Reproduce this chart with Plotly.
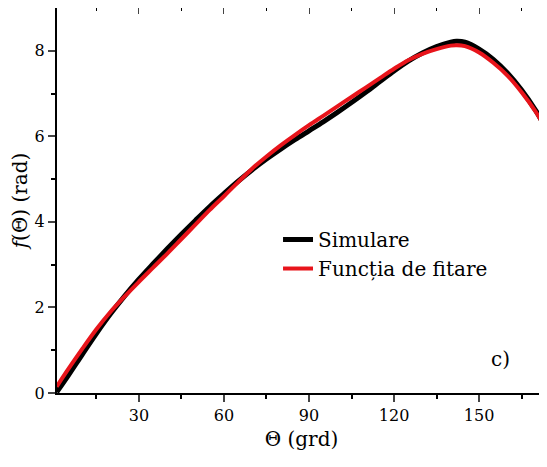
import plotly.graph_objects as go

theta = [1, 5, 10, 15, 20, 25, 30, 35, 40, 45, 50, 55, 60, 65, 70, 75, 80, 85, 90, 95,
         100, 105, 110, 115, 120, 125, 130, 135, 140, 142, 145, 150, 155, 160, 165, 170, 173.5]
simulare = [0.02, 0.40, 0.90, 1.39, 1.85, 2.27, 2.66, 3.02, 3.37, 3.71, 4.04, 4.36, 4.66, 4.95,
            5.22, 5.47, 5.70, 5.92, 6.13, 6.34, 6.56, 6.79, 7.03, 7.28, 7.53, 7.76, 7.95, 8.10,
            8.20, 8.22, 8.20, 8.04, 7.80, 7.48, 7.08, 6.60, 6.20]
fitare = [0.15, 0.55, 1.03, 1.49, 1.90, 2.26, 2.60, 2.93, 3.26, 3.60, 3.94, 4.28, 4.60, 4.93,
          5.25, 5.53, 5.79, 6.03, 6.26, 6.48, 6.70, 6.92, 7.14, 7.36, 7.58, 7.78, 7.93, 8.04,
          8.12, 8.13, 8.11, 7.96, 7.72, 7.42, 7.03, 6.57, 6.18]

x_ticks = [30, 60, 90, 120, 150]
y_ticks = [0, 2, 4, 6, 8]
x_minor = [15, 45, 75, 105, 135, 165]
y_minor = [1, 3, 5, 7]
x_range = [1.1, 173.6]
y_range = [0, 9]

FONT = "DejaVu Serif"

fig = go.Figure()
fig.add_trace(go.Scatter(x=theta, y=simulare, mode="lines", name="Simulare",
                         line=dict(color="black", width=5, shape="spline", smoothing=1.0)))
fig.add_trace(go.Scatter(x=theta, y=fitare, mode="lines", name="Funcția de fitare",
                         line=dict(color="#e8141b", width=4, shape="spline", smoothing=1.0)))

fig.add_trace(go.Scatter(x=[None], y=[None], xaxis="x2", yaxis="y2", showlegend=False,
                         hoverinfo="skip"))

# page body has an 8px margin: figure is sized/offset to compensate
fig.update_layout(
    width=539, height=443,
    margin=dict(l=49, r=1, t=0, b=58, autoexpand=False),
    paper_bgcolor="white", plot_bgcolor="white",
    font=dict(family=FONT, color="black", size=16),
    showlegend=True,
    legend=dict(x=0.452, y=0.361, xanchor="left", yanchor="middle",
                font=dict(family=FONT, size=20, color="black"),
                bgcolor="rgba(0,0,0,0)", tracegroupgap=0, itemwidth=30),
    xaxis=dict(range=x_range, tickvals=x_ticks, ticks="outside", ticklen=7, tickwidth=1.5,
               showline=True, linewidth=2, linecolor="black", showgrid=False, zeroline=False,
               automargin=False,
               minor=dict(tickvals=x_minor, ticks="outside", ticklen=4,
                          tickwidth=1.5, tickcolor="black"),
               title=dict(text="Θ (grd)", font=dict(family=FONT, size=20), standoff=8),
               tickfont=dict(family=FONT, size=16)),
    yaxis=dict(range=y_range, tickvals=y_ticks, ticks="outside", ticklen=7, tickwidth=1.5,
               showline=True, linewidth=2, linecolor="black", showgrid=False, zeroline=False,
               automargin=False,
               minor=dict(tickvals=y_minor, ticks="outside", ticklen=4,
                          tickwidth=1.5, tickcolor="black"),
               title=dict(text="<i>f</i>(Θ) (rad)", font=dict(family=FONT, size=20), standoff=8),
               tickfont=dict(family=FONT, size=16)),
    xaxis2=dict(overlaying="x", side="top", range=x_range, tickvals=x_ticks, ticks="inside",
                ticklen=6, tickwidth=1, showticklabels=False, showline=True, linewidth=1.2,
                linecolor="black", showgrid=False, zeroline=False, automargin=False,
                minor=dict(tickvals=x_minor, ticks="inside", ticklen=3,
                           tickwidth=1, tickcolor="black")),
    yaxis2=dict(overlaying="y", side="right", range=y_range, tickvals=y_ticks, ticks="inside",
                ticklen=6, tickwidth=1, showticklabels=False, showline=True, linewidth=1.2,
                linecolor="black", showgrid=False, zeroline=False, automargin=False,
                minor=dict(tickvals=y_minor, ticks="inside", ticklen=3,
                           tickwidth=1, tickcolor="black")),
    annotations=[dict(x=0.93, y=0.051, xref="paper", yref="paper", text="c)",
                      showarrow=False, font=dict(family=FONT, size=20, color="black"))],
)

fig.write_html("out.html")
